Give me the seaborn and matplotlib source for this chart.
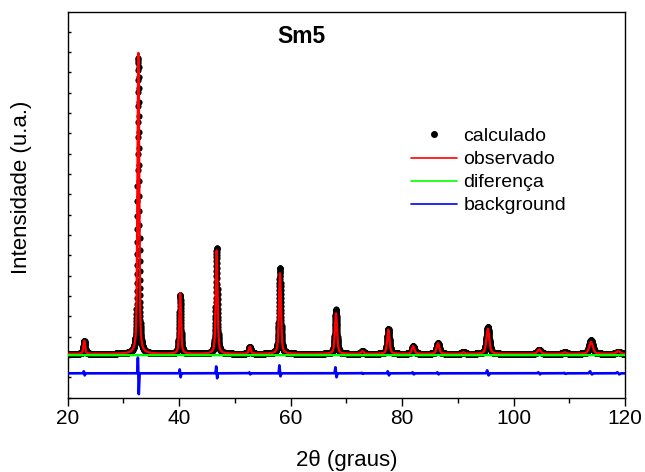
import numpy as np
import pandas as pd
import seaborn as sns
import matplotlib.pyplot as plt
from matplotlib.lines import Line2D
from matplotlib.ticker import MultipleLocator

# Reflections of the Sm5 pattern: position (2θ, degrees), peak heights (counts), FWHM (degrees)
peak_pos = [23.0, 32.7, 40.2, 46.75, 52.7, 58.1, 68.15, 72.9, 77.55, 82.0,
            86.45, 91.0, 95.4, 104.6, 109.2, 113.9, 118.8]
obs_height = [640, 14815, 2975, 5085, 345, 3955, 1990, 125, 1180, 370,
              515, 75, 1230, 220, 75, 590, 125]
calc_height = [640, 14545, 2900, 5210, 345, 4225, 2185, 150, 1230, 370,
               540, 100, 1325, 195, 75, 665, 100]
peak_fwhm = [0.36, 0.36, 0.38, 0.39, 0.41, 0.43, 0.46, 0.48, 0.50, 0.53,
             0.56, 0.58, 0.62, 0.68, 0.72, 0.77, 0.82]
# Residual excursions at each reflection (counts above / below the residual level)
resid_up = [100, 785, 195, 345, 50, 395, 295, 25, 100, 50,
            50, 0, 150, 50, 25, 100, 50]
resid_down = [100, 1030, 195, 245, 50, 150, 195, 25, 100, 50,
              50, 0, 100, 50, 25, 50, 50]

pattern_level = 2150
bkg_level = 2085
resid_level = 1190

two_theta = np.arange(20.0, 120.0001, 0.015)


def pseudo_voigt(x, x0, h, w, eta=0.5):
    dx = (x - x0) / (w / 2.0)
    return h * (eta / (1.0 + dx ** 2) + (1.0 - eta) * np.exp(-np.log(2) * dx ** 2))


obs = np.full_like(two_theta, pattern_level, dtype=float)
calc = np.full_like(two_theta, pattern_level, dtype=float)
resid = np.full_like(two_theta, resid_level, dtype=float)
for p, ho, hc, w, ru, rd in zip(peak_pos, obs_height, calc_height, peak_fwhm,
                                resid_up, resid_down):
    obs += pseudo_voigt(two_theta, p, ho, w)
    calc += pseudo_voigt(two_theta, p, hc, w)
    d, s = 0.22 * w, 0.2 * w
    resid += ru * np.exp(-((two_theta - (p - d)) / s) ** 2)
    resid -= rd * np.exp(-((two_theta - (p + d)) / s) ** 2)

df = pd.DataFrame({"tt": two_theta, "calc": calc, "obs": obs,
                   "bkg": bkg_level, "resid": resid})

sns.set_theme(style="white")
plt.rcParams["font.family"] = ["Liberation Sans", "DejaVu Sans"]
plt.rcParams["text.color"] = "black"
plt.rcParams["axes.labelcolor"] = "black"

fig = plt.figure(figsize=(6.45, 4.72), dpi=100)
ax = fig.add_axes([0.1047, 0.1578, 0.8643, 0.8167])

sns.scatterplot(data=df, x="tt", y="calc", s=20, color="black", linewidth=0,
                ax=ax, legend=False, zorder=2)
sns.lineplot(data=df, x="tt", y="obs", color="#ff0000", lw=1.7, ax=ax,
             estimator=None, sort=False, zorder=3)
sns.lineplot(data=df, x="tt", y="bkg", color="#00ff00", lw=1.7, ax=ax,
             estimator=None, sort=False, zorder=4)
sns.lineplot(data=df, x="tt", y="resid", color="#0000ff", lw=1.9, ax=ax,
             estimator=None, sort=False, zorder=4)

ax.set_xlim(20, 120)
ax.set_ylim(0, 18970)

ax.xaxis.set_major_locator(MultipleLocator(20))
ax.xaxis.set_minor_locator(MultipleLocator(10))
ax.yaxis.set_major_locator(MultipleLocator(1000))
ax.tick_params(axis="x", which="major", direction="out", length=6, width=1,
               labelsize=15, pad=2, colors="black", bottom=True)
ax.tick_params(axis="x", which="minor", direction="out", length=3.5, width=1,
               colors="black", bottom=True)
ax.tick_params(axis="y", which="major", direction="in", length=2.5, width=1,
               colors="black", left=True, labelleft=False)
ax.tick_params(top=False, right=False)
for sp in ax.spines.values():
    sp.set_color("black")
    sp.set_linewidth(1.0)

ax.set_xlabel("2θ (graus)", fontsize=16, color="black", labelpad=16)
ax.set_ylabel("Intensidade (u.a.)", fontsize=16, color="black")
ax.yaxis.set_label_coords(-0.064, 0.546)

ax.text(0.42, 0.936, "Sm5", transform=ax.transAxes, fontsize=16.5,
        fontweight="bold", ha="center", va="center", color="black")

handles = [
    Line2D([], [], ls="", marker="o", markersize=4, color="black"),
    Line2D([], [], color="#ff0000", lw=1.2),
    Line2D([], [], color="#00ff00", lw=1.2),
    Line2D([], [], color="#0000ff", lw=1.2),
]
labels = ["calculado", "observado", "diferença", "background"]
leg = ax.legend(handles, labels, loc="upper left", bbox_to_anchor=(0.617, 0.700),
                frameon=False, fontsize=14, borderpad=0, borderaxespad=0,
                handlelength=2.33, handletextpad=0.33, labelspacing=0.28)
for t in leg.get_texts():
    t.set_color("black")

fig.savefig("out.png", dpi=100)
